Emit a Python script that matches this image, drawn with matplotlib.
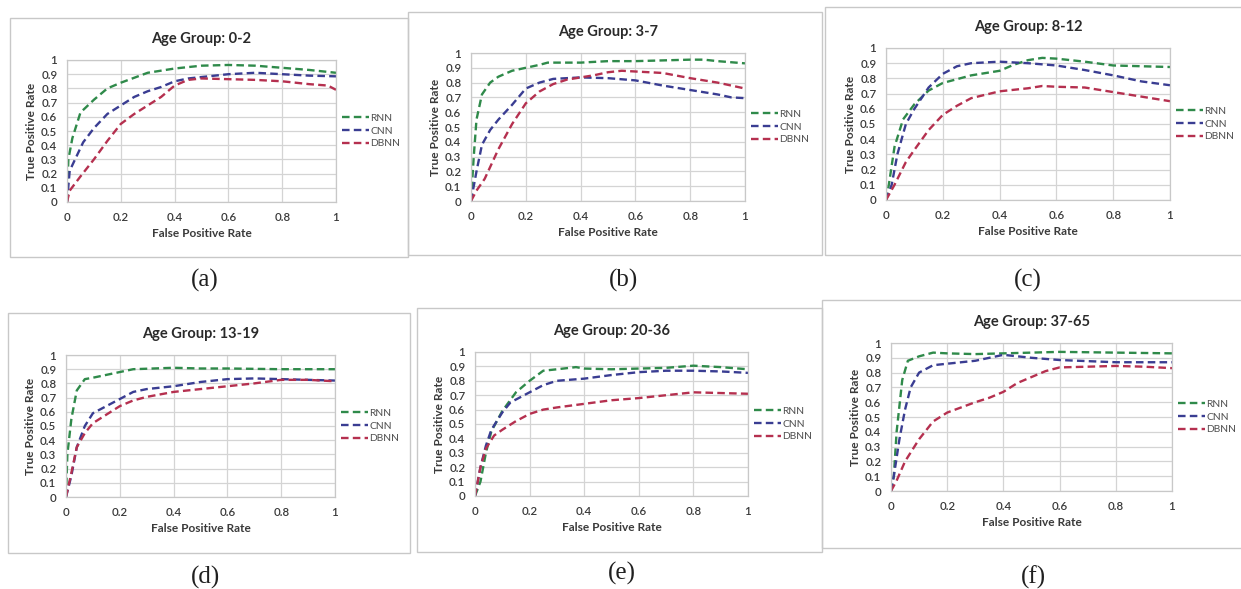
import matplotlib
matplotlib.use("Agg")
import matplotlib.pyplot as plt
from matplotlib.patches import Rectangle

W, H = 1241, 589

series_names = ["RNN", "CNN", "DBNN"]
titles = ["Age Group: 0-2", "Age Group: 3-7", "Age Group: 8-12",
          "Age Group: 13-19", "Age Group: 20-36", "Age Group: 37-65"]
captions = ["(a)", "(b)", "(c)", "(d)", "(e)", "(f)"]
x_ticks = [0, 0.2, 0.4, 0.6, 0.8, 1]
x_tick_labels = ["0", "0.2", "0.4", "0.6", "0.8", "1"]
y_ticks = [0, 0.1, 0.2, 0.3, 0.4, 0.5, 0.6, 0.7, 0.8, 0.9, 1]
y_tick_labels = ["0", "0.1", "0.2", "0.3", "0.4", "0.5", "0.6", "0.7", "0.8", "0.9", "1"]

# (a) 0-2
a_rnn_x = [0, 0.005, 0.02, 0.05, 0.1, 0.15, 0.2, 0.3, 0.4, 0.5, 0.6, 0.7, 0.8, 0.9, 1.0]
a_rnn_y = [0, 0.3, 0.45, 0.63, 0.72, 0.8, 0.84, 0.91, 0.94, 0.96, 0.965, 0.96, 0.945, 0.93, 0.91]
a_cnn_x = [0, 0.01, 0.03, 0.06, 0.1, 0.15, 0.2, 0.25, 0.3, 0.35, 0.4, 0.45, 0.5, 0.6, 0.7, 0.8, 0.9, 1.0]
a_cnn_y = [0, 0.22, 0.3, 0.42, 0.52, 0.62, 0.68, 0.74, 0.78, 0.81, 0.85, 0.87, 0.88, 0.9, 0.91, 0.9, 0.89, 0.885]
a_dbnn_x = [0, 0.01, 0.05, 0.1, 0.15, 0.2, 0.25, 0.3, 0.35, 0.4, 0.45, 0.5, 0.6, 0.7, 0.8, 0.9, 0.97, 1.0]
a_dbnn_y = [0, 0.08, 0.18, 0.3, 0.43, 0.55, 0.62, 0.68, 0.74, 0.82, 0.86, 0.87, 0.865, 0.86, 0.85, 0.83, 0.82, 0.79]

# (b) 3-7
b_rnn_x = [0, 0.01, 0.02, 0.04, 0.07, 0.1, 0.15, 0.2, 0.25, 0.28, 0.4, 0.5, 0.6, 0.7, 0.8, 0.85, 0.9, 1.0]
b_rnn_y = [0, 0.3, 0.55, 0.72, 0.8, 0.84, 0.88, 0.9, 0.92, 0.935, 0.935, 0.945, 0.945, 0.95, 0.955, 0.955, 0.945, 0.93]
b_cnn_x = [0, 0.02, 0.04, 0.07, 0.1, 0.15, 0.2, 0.25, 0.3, 0.4, 0.5, 0.6, 0.7, 0.8, 0.9, 0.95, 1.0]
b_cnn_y = [0, 0.2, 0.38, 0.48, 0.55, 0.65, 0.76, 0.8, 0.825, 0.835, 0.83, 0.815, 0.78, 0.75, 0.72, 0.7, 0.695]
b_dbnn_x = [0, 0.02, 0.05, 0.1, 0.15, 0.2, 0.25, 0.3, 0.35, 0.4, 0.45, 0.5, 0.55, 0.6, 0.7, 0.8, 0.9, 1.0]
b_dbnn_y = [0, 0.07, 0.15, 0.35, 0.52, 0.66, 0.74, 0.79, 0.82, 0.835, 0.85, 0.87, 0.88, 0.875, 0.865, 0.83, 0.8, 0.76]

# (c) 8-12
c_rnn_x = [0, 0.01, 0.03, 0.06, 0.1, 0.15, 0.2, 0.3, 0.4, 0.45, 0.5, 0.55, 0.6, 0.7, 0.8, 0.9, 1.0]
c_rnn_y = [0, 0.1, 0.35, 0.53, 0.63, 0.72, 0.77, 0.82, 0.85, 0.89, 0.92, 0.935, 0.93, 0.91, 0.885, 0.88, 0.875]
c_cnn_x = [0, 0.02, 0.04, 0.07, 0.1, 0.15, 0.2, 0.25, 0.3, 0.4, 0.5, 0.6, 0.7, 0.8, 0.9, 1.0]
c_cnn_y = [0, 0.1, 0.3, 0.5, 0.6, 0.74, 0.83, 0.88, 0.9, 0.91, 0.9, 0.885, 0.855, 0.82, 0.78, 0.755]
c_dbnn_x = [0, 0.03, 0.07, 0.1, 0.15, 0.2, 0.25, 0.3, 0.4, 0.5, 0.55, 0.6, 0.7, 0.8, 0.9, 1.0]
c_dbnn_y = [0, 0.1, 0.25, 0.33, 0.46, 0.56, 0.62, 0.67, 0.715, 0.735, 0.75, 0.745, 0.74, 0.71, 0.68, 0.65]

# (d) 13-19
d_rnn_x = [0, 0.005, 0.02, 0.04, 0.07, 0.1, 0.15, 0.2, 0.25, 0.4, 0.5, 0.6, 0.8, 1.0]
d_rnn_y = [0, 0.3, 0.55, 0.75, 0.83, 0.84, 0.86, 0.88, 0.9, 0.91, 0.905, 0.905, 0.9, 0.9]
d_cnn_x = [0, 0.02, 0.04, 0.07, 0.1, 0.15, 0.2, 0.25, 0.3, 0.4, 0.5, 0.6, 0.7, 0.8, 0.9, 1.0]
d_cnn_y = [0, 0.15, 0.35, 0.5, 0.59, 0.64, 0.69, 0.74, 0.76, 0.78, 0.81, 0.83, 0.835, 0.83, 0.825, 0.82]
d_dbnn_x = [0, 0.02, 0.04, 0.07, 0.1, 0.15, 0.2, 0.25, 0.3, 0.4, 0.5, 0.6, 0.7, 0.8, 0.9, 1.0]
d_dbnn_y = [0, 0.17, 0.35, 0.45, 0.52, 0.58, 0.64, 0.68, 0.705, 0.74, 0.76, 0.78, 0.8, 0.825, 0.825, 0.815]

# (e) 20-36
e_rnn_x = [0, 0.02, 0.04, 0.06, 0.1, 0.15, 0.2, 0.25, 0.3, 0.37, 0.4, 0.5, 0.6, 0.7, 0.8, 0.9, 1.0]
e_rnn_y = [0, 0.1, 0.3, 0.45, 0.59, 0.72, 0.8, 0.87, 0.88, 0.895, 0.885, 0.88, 0.885, 0.89, 0.905, 0.895, 0.88]
e_cnn_x = [0, 0.02, 0.04, 0.06, 0.1, 0.13, 0.15, 0.2, 0.25, 0.3, 0.4, 0.5, 0.6, 0.7, 0.8, 0.9, 1.0]
e_cnn_y = [0, 0.2, 0.35, 0.46, 0.58, 0.65, 0.67, 0.72, 0.77, 0.8, 0.815, 0.84, 0.86, 0.87, 0.87, 0.865, 0.855]
e_dbnn_x = [0, 0.02, 0.04, 0.07, 0.1, 0.15, 0.2, 0.25, 0.3, 0.4, 0.5, 0.6, 0.7, 0.8, 0.9, 1.0]
e_dbnn_y = [0, 0.2, 0.33, 0.42, 0.46, 0.52, 0.57, 0.6, 0.615, 0.64, 0.665, 0.68, 0.7, 0.72, 0.715, 0.71]

# (f) 37-65
f_rnn_x = [0, 0.01, 0.02, 0.04, 0.06, 0.1, 0.15, 0.2, 0.3, 0.4, 0.5, 0.6, 0.8, 1.0]
f_rnn_y = [0, 0.1, 0.4, 0.75, 0.88, 0.91, 0.935, 0.93, 0.925, 0.93, 0.935, 0.94, 0.935, 0.93]
f_cnn_x = [0, 0.01, 0.03, 0.05, 0.07, 0.1, 0.15, 0.2, 0.3, 0.4, 0.45, 0.5, 0.6, 0.8, 1.0]
f_cnn_y = [0, 0.1, 0.35, 0.55, 0.7, 0.8, 0.85, 0.86, 0.88, 0.92, 0.91, 0.9, 0.885, 0.87, 0.87]
f_dbnn_x = [0, 0.02, 0.05, 0.1, 0.15, 0.2, 0.3, 0.35, 0.4, 0.45, 0.5, 0.55, 0.6, 0.7, 0.8, 0.9, 1.0]
f_dbnn_y = [0, 0.07, 0.2, 0.35, 0.47, 0.53, 0.6, 0.63, 0.67, 0.73, 0.77, 0.81, 0.835, 0.84, 0.845, 0.84, 0.83]

panels_data = [
    [(a_rnn_x, a_rnn_y), (a_cnn_x, a_cnn_y), (a_dbnn_x, a_dbnn_y)],
    [(b_rnn_x, b_rnn_y), (b_cnn_x, b_cnn_y), (b_dbnn_x, b_dbnn_y)],
    [(c_rnn_x, c_rnn_y), (c_cnn_x, c_cnn_y), (c_dbnn_x, c_dbnn_y)],
    [(d_rnn_x, d_rnn_y), (d_cnn_x, d_cnn_y), (d_dbnn_x, d_dbnn_y)],
    [(e_rnn_x, e_rnn_y), (e_cnn_x, e_cnn_y), (e_dbnn_x, e_dbnn_y)],
    [(f_rnn_x, f_rnn_y), (f_cnn_x, f_cnn_y), (f_dbnn_x, f_dbnn_y)],
]

colors = ["#2f8a4a", "#3a3d92", "#b5304f"]

# layout in pixels: plot area (left, right, top, bottom), box (left, right, top, bottom), caption (x, y)
plot_px = [(67, 336, 60, 202), (471, 745, 53, 201), (886, 1170, 48, 200),
           (66, 335, 355, 497), (475, 748, 352, 496), (891, 1172, 343, 491)]
box_px = [(10, 408, 18, 257), (408, 822, 12, 255), (825, 1245, 7, 255),
          (8, 410, 313, 553), (417, 822, 308, 552), (822, 1245, 300, 548)]
cap_px = [(205, 280), (623, 280), (1028, 280), (205, 577), (622, 573), (1033, 577)]

plt.rcParams['font.family'] = ['Lato', 'DejaVu Sans']

fig = plt.figure(figsize=(W / 100, H / 100), dpi=100)
fig.patch.set_facecolor("white")

for i in range(6):
    bl, br, bt, bb = box_px[i]
    fig.patches.append(Rectangle((bl / W, 1 - bb / H), (br - bl) / W, (bb - bt) / H,
                                 transform=fig.transFigure, fill=False,
                                 edgecolor="#c8c8c8", linewidth=1.0, zorder=0))
    l, r, t, b = plot_px[i]
    ax = fig.add_axes([l / W, 1 - b / H, (r - l) / W, (b - t) / H])
    for (xs, ys), name, col in zip(panels_data[i], series_names, colors):
        ax.plot(xs, ys, color=col, linestyle=(0, (3.2, 1.8)), linewidth=1.7, label=name)
    ax.set_xlim(0, 1)
    ax.set_ylim(0, 1)
    ax.set_xticks(x_ticks)
    ax.set_xticklabels(x_tick_labels)
    ax.set_yticks(y_ticks)
    ax.set_yticklabels(y_tick_labels)
    ax.tick_params(length=0, labelsize=8.3, labelcolor="#3a3a3a", pad=7)
    for lab in ax.get_xticklabels() + ax.get_yticklabels():
        lab.set_fontweight("semibold")
    ax.grid(True, color="#d4d4d4", linewidth=0.9)
    ax.set_axisbelow(True)
    for s in ax.spines.values():
        s.set_color("#c8c8c8")
        s.set_linewidth(0.9)
    ax.set_xlabel("False Positive Rate", fontsize=8.6, fontweight="bold", color="#3a3a3a", labelpad=4)
    ax.set_ylabel("True Positive Rate", fontsize=8.6, fontweight="bold", color="#3a3a3a", labelpad=3)
    ax.set_title(titles[i], fontsize=10.5, fontweight="bold", color="#2a2a2a", pad=12)
    ax.legend(loc="center left", bbox_to_anchor=(1.0, 0.5), frameon=False, fontsize=7.4,
              handlelength=2.6, handletextpad=0.15, labelspacing=0.35, borderaxespad=0.2,
              labelcolor="#505050")
    cx, cy = cap_px[i]
    fig.text(cx / W, 1 - cy / H, captions[i], fontsize=18, family="Liberation Serif",
             ha="center", va="center", color="#202020")

fig.savefig("out.png", dpi=100, facecolor="white")
